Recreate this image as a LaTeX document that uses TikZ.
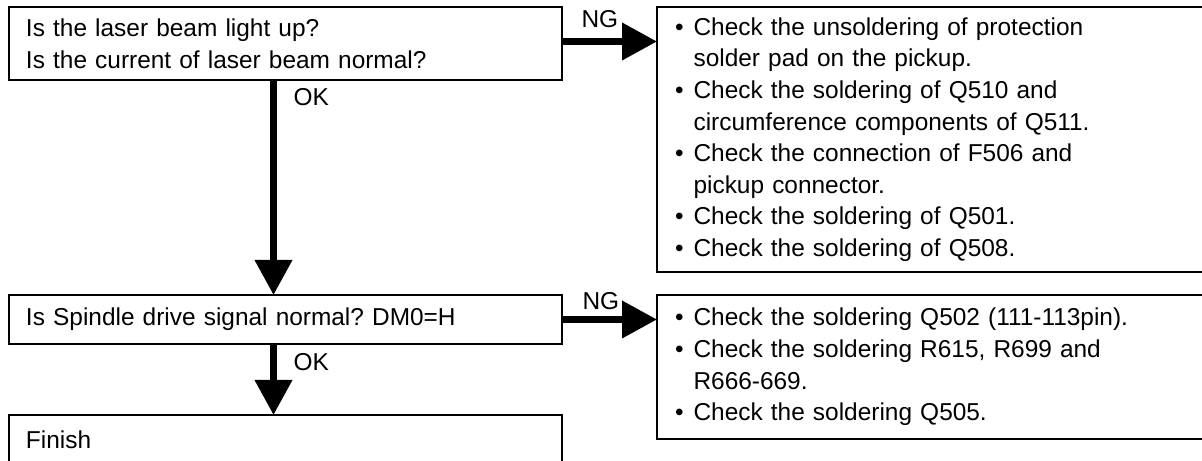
\documentclass[tikz,border=0pt]{standalone}
\usepackage{fontspec}
\setmainfont{Liberation Sans}
\frenchspacing
\usetikzlibrary{arrows.meta,positioning}
\tikzset{
  query/.style={draw,line width=1.1pt,outer sep=0pt,inner xsep=0.34cm,inner ysep=0pt,
    text width=10.38cm,minimum width=11.06cm,align=left},
  checklist/.style={draw,line width=1.1pt,outer sep=0pt,inner xsep=0.36cm,inner ysep=0pt,
    text width=11.28cm,minimum width=12cm,align=left},
  flowarrow/.style={-{Triangle[length=0.7cm,width=0.72cm]},line width=0.14cm},
  tag/.style={inner sep=0pt,anchor=base west}
}

\begin{document}
\begin{tikzpicture}[font=\fontsize{13.9}{18}\selectfont]
  \clip (0,0) rectangle (24.04,-9.22);
  \node[query,anchor=north west,minimum height=1.46cm] (q1) at (0.18,-0.14)
    {Is the laser beam light up?\\Is the current of laser beam normal?};
  \node[query,below=4.3cm of q1,minimum height=0.98cm] (q2)
    {Is Spindle drive signal normal? DM0=H};
  \node[query,below=1.42cm of q2,minimum height=0.98cm] (fin) {Finish};
  \node[checklist,right=1.9cm of q1.north east,anchor=north west,minimum height=5.3cm] (c1)
    {\begin{tabular}{@{}l@{\hspace{0.2cm}}l@{}}
      \textbullet & Check the unsoldering of protection\\
      & solder pad on the pickup.\\
      \textbullet & Check the soldering of Q510 and\\
      & circumference components of Q511.\\
      \textbullet & Check the connection of F506 and\\
      & pickup connector.\\
      \textbullet & Check the soldering of Q501.\\
      \textbullet & Check the soldering of Q508.
    \end{tabular}};
  \node[checklist,right=1.9cm of q2.north east,anchor=north west,minimum height=2.88cm] (c2)
    {\begin{tabular}{@{}l@{\hspace{0.2cm}}l@{}}
      \textbullet & Check the soldering Q502 (111-113pin).\\
      \textbullet & Check the soldering R615, R699 and\\
      & R666-669.\\
      \textbullet & Check the soldering Q505.
    \end{tabular}};
  % OK path
  \draw[flowarrow] ([xshift=-0.24cm]q1.south) -- ([xshift=-0.24cm]q2.north)
    node[tag,pos=0,xshift=0.33cm,yshift=-0.52cm] {OK};
  \draw[flowarrow] ([xshift=-0.24cm]q2.south) -- ([xshift=-0.24cm]fin.north)
    node[tag,pos=0,xshift=0.33cm,yshift=-0.54cm] {OK};
  % NG path
  \draw[flowarrow] ([yshift=0.04cm]q1.east) -- ([yshift=0.04cm]q1.east -| c1.west)
    node[tag,pos=0,xshift=0.32cm,yshift=0.27cm] {NG};
  \draw[flowarrow] (q2.east) -- (q2.east -| c2.west)
    node[tag,pos=0,xshift=0.34cm,yshift=0.19cm] {NG};
\end{tikzpicture}
\end{document}
